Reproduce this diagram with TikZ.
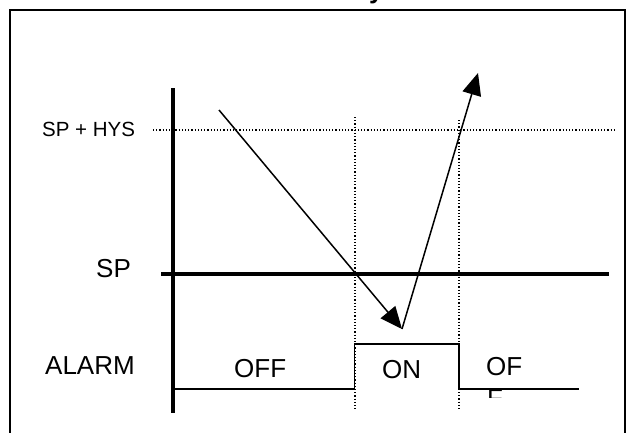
\documentclass[tikz,border=0pt]{standalone}
\usepackage{fontspec}
\setmainfont{Liberation Sans}
\usetikzlibrary{arrows.meta}
\begin{document}
\begin{tikzpicture}[x=1pt,y=-1pt,
  lbl/.style={anchor=base west, inner sep=0pt, font=\fontsize{26}{32}\selectfont},
  smalllbl/.style={anchor=base west, inner sep=0pt, font=\fontsize{20.5}{24}\selectfont},
  arr/.style={line width=1.5pt, -{Triangle[length=22pt,width=19pt]}},
  dotline/.style={line width=1.3pt, dash pattern=on 1.2pt off 2pt},
  thinline/.style={line width=1.5pt},
  axisline/.style={line width=3.5pt},
  spline/.style={line width=4pt}]
\useasboundingbox (0,0) rectangle (628,432);
\fill[white] (0,0) rectangle (628,432);
% cut-off title fragment
\begin{scope}
\clip (0,0) rectangle (628,432);
\node[anchor=base west, inner sep=0pt, font=\bfseries\fontsize{26}{30}\selectfont] (title) at (369,-2) {y};
\end{scope}
% frame
\coordinate (fbl) at (10,440);
\coordinate (ftl) at (10,10);
\coordinate (ftr) at (625,10);
\coordinate (fbr) at (625,440);
\draw[thinline] (fbl) -- (ftl) -- (ftr) -- (fbr);
% coordinates
\coordinate (axtop) at (173,88);
\coordinate (axbot) at (173,413);
\coordinate (spl) at (161,274);
\coordinate (spr) at (609,274);
\coordinate (hysl) at (153,130);
\coordinate (hysr) at (615,130);
\coordinate (v1t) at (355,117);
\coordinate (v1b) at (355,411);
\coordinate (v2t) at (459,120);
\coordinate (v2b) at (459,411);
\coordinate (a0) at (174,389);
\coordinate (a1) at (354.5,389);
\coordinate (a2) at (354.5,344);
\coordinate (a3) at (459,344);
\coordinate (a4) at (459,389);
\coordinate (a5) at (579,389);
\coordinate (s1) at (219,110);
\coordinate (s2) at (402,329);
\coordinate (s3) at (478,73);
% dotted guides
\draw[dotline] (hysl) -- (hysr);
\draw[dotline] (v1t) -- (v1b);
\draw[dotline] (v2t) -- (v2b);
% axis and SP line
\draw[axisline] (axtop) -- (axbot);
\draw[spline] (spl) -- (spr);
% alarm signal
\draw[thinline] (a0) -- (a1) -- (a2) -- (a3) -- (a4) -- (a5);
% arrows
\draw[arr] (s1) -- (s2);
\draw[arr] (s2) -- (s3);
% labels
\node[smalllbl] (hys) at (42,136) {SP + HYS};
\node[lbl] (sp) at (96,277) {SP};
\node[lbl] (alarm) at (45,374) {ALARM};
\node[lbl] (off) at (234,377) {OFF};
\node[lbl] (on) at (382,378) {ON};
\node[lbl] (of) at (486,375) {OF};
\begin{scope}
\clip (480,380) rectangle (520,397);
\node[lbl] (f) at (487,407) {F};
\end{scope}
\end{tikzpicture}
\end{document}
